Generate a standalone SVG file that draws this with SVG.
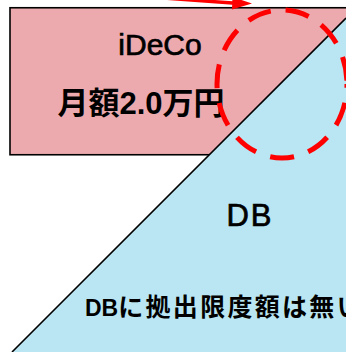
<svg xmlns="http://www.w3.org/2000/svg" width="346" height="352" viewBox="0 0 346 352">
<defs>
<style>
.lbl{font-family:"Liberation Sans","Noto Sans CJK JP",sans-serif;fill:#000;stroke:#000;stroke-width:0.7;}
.jp{font-family:"Liberation Sans","Noto Sans CJK JP",sans-serif;font-weight:bold;fill:#000;}
</style>
</defs>
<rect x="0" y="0" width="346" height="352" fill="#fff"/>
<g id="ideco">
<rect x="10" y="7.75" width="345" height="147" fill="#ECAAAE" stroke="#000" stroke-width="1.6"/>
<text class="lbl" x="160" y="55" font-size="30" text-anchor="middle">iDeCo</text>
<text class="jp" x="141" y="114" font-size="31" text-anchor="middle">月額2.0万円</text>
</g>
<g id="db">
<polygon points="12,352 346,18 346,352" fill="#B9E6F2"/>
<line x1="12" y1="352" x2="346" y2="18" stroke="#000" stroke-width="1.6"/>
<text class="lbl" x="250" y="226" font-size="31" text-anchor="middle" letter-spacing="2">DB</text>
<text class="jp" x="85" y="316" font-size="23">DB<tspan font-size="25" letter-spacing="2.3">に拠出限度額は無い</tspan></text>
</g>
<g id="connectors">
<ellipse cx="282" cy="84" rx="65" ry="74" fill="none" stroke="#FF0000" stroke-width="5" stroke-dasharray="24 15" stroke-dashoffset="20"/>
<line x1="150" y1="-3" x2="236" y2="3.3" stroke="#FF0000" stroke-width="3.5"/>
<polygon points="252,3.5 232.5,-3 232,9.5" fill="#FF0000"/>
</g>
</svg>
